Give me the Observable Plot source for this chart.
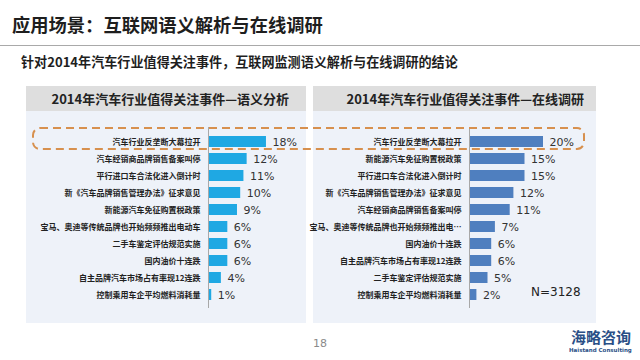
<!DOCTYPE html>
<html>
<head>
<meta charset="utf-8">
<script src="https://cdn.jsdelivr.net/npm/d3@7"></script>
<script src="https://cdn.jsdelivr.net/npm/@observablehq/plot@0.6"></script>
<style>
  html, body { margin: 0; padding: 0; background: #fff; }
  body { width: 640px; height: 360px; position: relative; overflow: hidden;
         font-family: "Noto Sans CJK SC", "Noto Sans", sans-serif; }
  .abs { position: absolute; }
  #title { left: 12px; top: 11px; font-size: 18.3px; font-weight: bold; color: #1e1e1e; line-height: 26px; }
  #rule { left: 0; top: 45px; width: 640px; height: 1px; background: #a9a9a9; }
  #subtitle { left: 21px; top: 52px; font-size: 13.1px; font-weight: bold; color: #1e1e1e; line-height: 20px; }
  .panel { top: 86px; height: 237px; background: #eef2f9; }
  .head { position: absolute; left: 0; top: 0; right: 0; height: 25px; background: #dedede;
          font-size: 13px; font-weight: bold; color: #222; line-height: 25px; text-align: right; }
  .chart { position: absolute; left: 0; top: 24px; }
  #n { left: 531px; top: 285px; font-family: "DejaVu Sans", sans-serif; font-size: 12px; color: #222; }
  #page { left: 313px; top: 337px; font-family: "DejaVu Sans", sans-serif; font-size: 11px; color: #8a8a8a; }
  #logo { left: 571px; top: 328px; font-size: 15px; font-weight: bold; color: #2a4f86; line-height: 17px; }
  #logo2 { left: 569px; top: 347px; font-family: "DejaVu Sans", sans-serif; font-size: 5.5px; font-weight: bold; color: #2a4f86; }
  #hl { left: 32px; top: 127px; }
</style>
</head>
<body>
<div id="title" class="abs">应用场景：互联网语义解析与在线调研</div>
<div id="rule" class="abs"></div>
<div id="subtitle" class="abs">针对2014年汽车行业值得关注事件，互联网监测语义解析与在线调研的结论</div>

<div id="p1" class="abs panel" style="left:26px;width:280px;">
  <div class="head" style="padding-right:17px;">2014年汽车行业值得关注事件—语义分析</div>
  <div class="chart" id="c1"></div>
</div>
<div id="p2" class="abs panel" style="left:313px;width:283px;">
  <div class="head" style="padding-right:12px;">2014年汽车行业值得关注事件—在线调研</div>
  <div class="chart" id="c2"></div>
</div>

<svg id="hl" class="abs" width="554" height="24">
  <rect x="1" y="1" width="551" height="21" rx="7" ry="7" fill="none" stroke="#d7904e" stroke-width="2" stroke-dasharray="8 5"></rect>
</svg>

<div id="n" class="abs">N=3128</div>
<div id="page" class="abs">18</div>
<div id="logo" class="abs">海略咨询</div>
<div id="logo2" class="abs">Haistand Consulting</div>

<script>
// Left panel: semantic analysis
const semanticNames = [
  "汽车行业反垄断大幕拉开",
  "汽车经销商品牌销售备案叫停",
  "平行进口车合法化进入倒计时",
  "新《汽车品牌销售管理办法》征求意见",
  "新能源汽车免征购置税政策",
  "宝马、奥迪等传统品牌也开始频频推出电动车",
  "二手车鉴定评估规范实施",
  "国内油价十连跌",
  "自主品牌汽车市场占有率现12连跌",
  "控制乘用车企平均燃料消耗量"
];
const semanticValues = [18, 12, 11, 10, 9, 6, 6, 6, 4, 1];

// Right panel: online survey
const surveyNames = [
  "汽车行业反垄断大幕拉开",
  "新能源汽车免征购置税政策",
  "平行进口车合法化进入倒计时",
  "新《汽车品牌销售管理办法》征求意见",
  "汽车经销商品牌销售备案叫停",
  "宝马、奥迪等传统品牌也开始频频推出电…",
  "国内油价十连跌",
  "自主品牌汽车市场占有率现12连跌",
  "二手车鉴定评估规范实施",
  "控制乘用车企平均燃料消耗量"
];
const surveyValues = [20, 15, 15, 12, 11, 7, 6, 6, 5, 2];

function makeChart(names, values, opts) {
  const data = names.map((name, i) => ({name, v: values[i]}));
  return Plot.plot({
    width: opts.width,
    height: 213,
    marginLeft: opts.marginLeft,
    marginRight: opts.marginRight,
    marginTop: 17,
    marginBottom: 15,
    style: {background: "transparent", fontFamily: "'Noto Sans CJK SC', sans-serif", fontSize: "8px", fontWeight: "bold", color: "#222", overflow: "visible"},
    x: {domain: [0, 25], axis: null},
    y: {domain: names, padding: 0.37, label: null},
    marks: [
      Plot.barX(data, {x: "v", y: "name", fill: opts.color}),
      Plot.ruleX([0], {stroke: "#a8a8a8", strokeWidth: 1}),
      Plot.axisY({tickSize: 0, tickPadding: 8, label: null, fontSize: 8, fontWeight: "bold", fill: "#222"}),
      Plot.text(data, {x: "v", y: "name", text: d => d.v + "%", textAnchor: "start", dx: 6,
        fontSize: 11, fontWeight: "normal", fill: "#333", fontFamily: "'DejaVu Sans', sans-serif"})
    ]
  });
}

document.getElementById("c1").append(makeChart(semanticNames, semanticValues,
  {width: 280, marginLeft: 182, marginRight: 17.5, color: "#1fa8e3"}));
document.getElementById("c2").append(makeChart(surveyNames, surveyValues,
  {width: 283, marginLeft: 156, marginRight: 34.5, color: "#4f7fbf"}));
</script>
</body>
</html>
